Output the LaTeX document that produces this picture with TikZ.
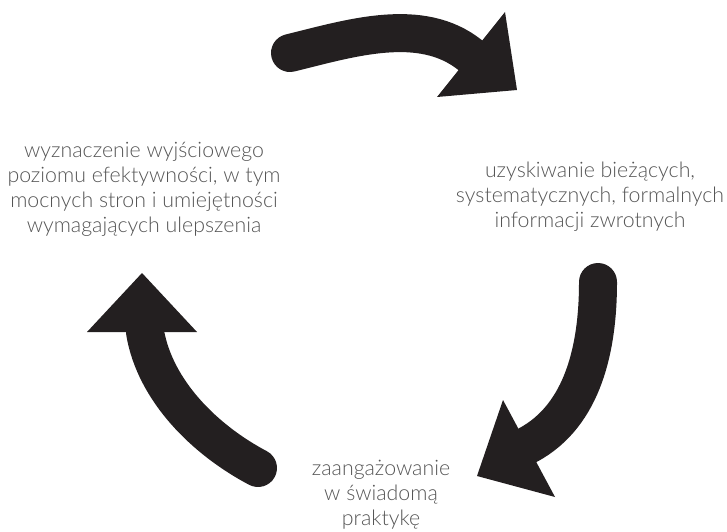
\documentclass[tikz,border=0pt]{standalone}
\usepackage{fontspec}
\setmainfont{Lato Light}
\definecolor{arrowblack}{HTML}{231F20}
\definecolor{textgray}{HTML}{555555}

\begin{document}
\begin{tikzpicture}[x=0.75pt,y=-0.75pt,
cycletext/.style={align=center, text=textgray, inner sep=0pt, anchor=base,
  font=\fontsize{16}{18.75}\selectfont},
shaft/.style={draw=arrowblack, line width=28.5pt, line cap=round},
head/.style={fill=arrowblack}]
\useasboundingbox (0,0) rectangle (727,531);
% the three steps
\node[cycletext] (start) at (144,232)
  {wyznaczenie wyjściowego\\poziomu efektywności, w tym\\mocnych stron i umiejętności\\wymagających ulepszenia};
\node[cycletext] (feedback) at (590,227)
  {uzyskiwanie bieżących,\\systematycznych, formalnych\\informacji zwrotnych};
\node[cycletext] (practice) at (381,525)
  {zaangażowanie\\w świadomą\\praktykę};
% ends of the arrows
\coordinate (topTail) at (290,53);
\coordinate (topEnd) at (470,55);
\coordinate (rightTail) at (598,282);
\coordinate (rightEnd) at (528,445);
\coordinate (leftTail) at (258,468);
\coordinate (leftEnd) at (145,332);
% arrows
\draw[shaft] (topTail) .. controls (351,38) and (421,16) .. (topEnd);
\fill[head] (505,12) -- (437,97) -- (517,90) -- cycle;
\draw[shaft] (rightTail) .. controls (598,346) and (584,415) .. (rightEnd);
\fill[head] (503,400) -- (477,476) -- (555,497) -- cycle;
\draw[shaft] (leftTail) .. controls (205,440) and (155,391) .. (leftEnd);
\fill[head] (142,273) -- (87,332) -- (197,332) -- cycle;
\end{tikzpicture}
\end{document}
